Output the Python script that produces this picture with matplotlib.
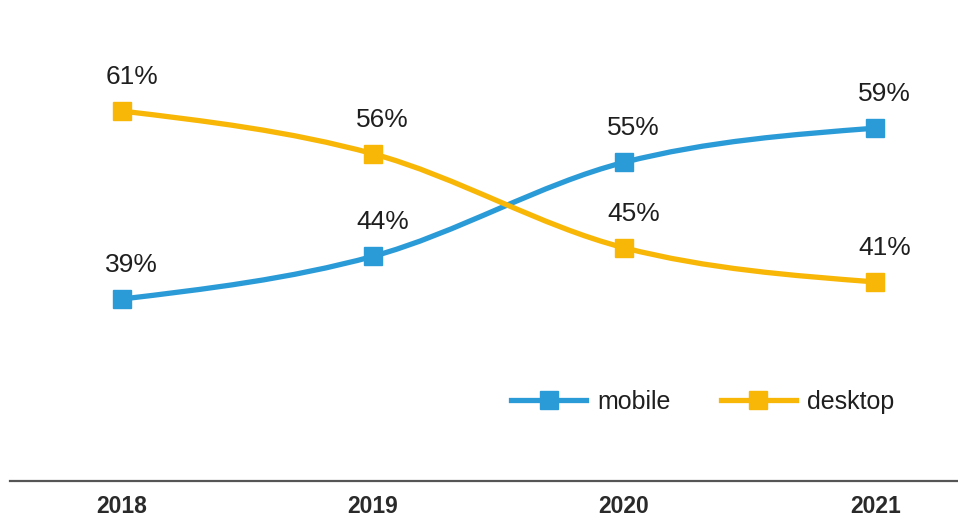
import matplotlib
matplotlib.use("Agg")
import matplotlib.pyplot as plt
import numpy as np
from matplotlib.lines import Line2D
from matplotlib.patches import PathPatch
from matplotlib.path import Path

plt.rcParams["font.family"] = ["Liberation Sans", "DejaVu Sans"]

years = [2018, 2019, 2020, 2021]
mobile = [39, 44, 55, 59]
desktop = [61, 56, 45, 41]

BLUE = "#2b9bd8"
YELLOW = "#f8b606"
TEXT = "#1f1f1f"


def monotone_path(xs, ys):
    """Monotone cubic (d3 curveMonotoneX style) as a Bezier path."""
    xs = np.asarray(xs, float)
    ys = np.asarray(ys, float)
    n = len(xs)
    h = np.diff(xs)
    s = np.diff(ys) / h
    t = np.zeros(n)
    for i in range(1, n - 1):
        p = (s[i - 1] * h[i] + s[i] * h[i - 1]) / (h[i - 1] + h[i])
        t[i] = (np.sign(s[i - 1]) + np.sign(s[i])) * min(
            abs(s[i - 1]), abs(s[i]), 0.5 * abs(p))
    t[0] = (3 * s[0] - t[1]) / 2
    t[-1] = (3 * s[-1] - t[-2]) / 2
    verts = [(xs[0], ys[0])]
    codes = [Path.MOVETO]
    for i in range(n - 1):
        d = h[i] / 3
        verts += [(xs[i] + d, ys[i] + t[i] * d),
                  (xs[i + 1] - d, ys[i + 1] - t[i + 1] * d),
                  (xs[i + 1], ys[i + 1])]
        codes += [Path.CURVE4] * 3
    return Path(verts, codes)


fig = plt.figure(figsize=(9.58, 5.19), dpi=100)
ax = fig.add_axes([10 / 958, 38 / 519, 948 / 958, 481 / 519])

for vals, color, z in [(mobile, BLUE, 2), (desktop, YELLOW, 3)]:
    ax.add_patch(PathPatch(monotone_path(years, vals), fill=False,
                           edgecolor=color, lw=3.8, capstyle="round",
                           zorder=z))
    ax.plot(years, vals, ls="none", marker="s", ms=12.5, color=color,
            zorder=z + 0.5)
    for x, v in zip(years, vals):
        ax.annotate(f"{v}%", (x, v), xytext=(7, 19.5),
                    textcoords="offset points", ha="center", va="baseline",
                    fontsize=19, color=TEXT)

ax.set_xlim(2017.554, 2021.33)
ax.set_ylim(17.7, 74.0)
for side in ("left", "right", "top"):
    ax.spines[side].set_visible(False)
ax.spines["bottom"].set_color("#555555")
ax.spines["bottom"].set_linewidth(1.6)
ax.set_yticks([])
ax.set_xticks(years)
ax.set_xticklabels([str(y) for y in years], fontsize=16.5,
                   fontweight="bold", color="#2a2a2a")
ax.tick_params(axis="x", length=0, pad=10)

handles = [Line2D([], [], color=BLUE, lw=3.8, marker="s", ms=12.5),
           Line2D([], [], color=YELLOW, lw=3.8, marker="s", ms=12.5)]
fig.legend(handles, ["mobile", "desktop"], loc="center left",
           bbox_to_anchor=(511 / 958, 1 - 402 / 519), ncol=2, frameon=False,
           fontsize=18, handlelength=3.0, handletextpad=0.45,
           columnspacing=2.0, borderpad=0, borderaxespad=0,
           labelcolor=TEXT)

fig.savefig("out.png", dpi=100)
